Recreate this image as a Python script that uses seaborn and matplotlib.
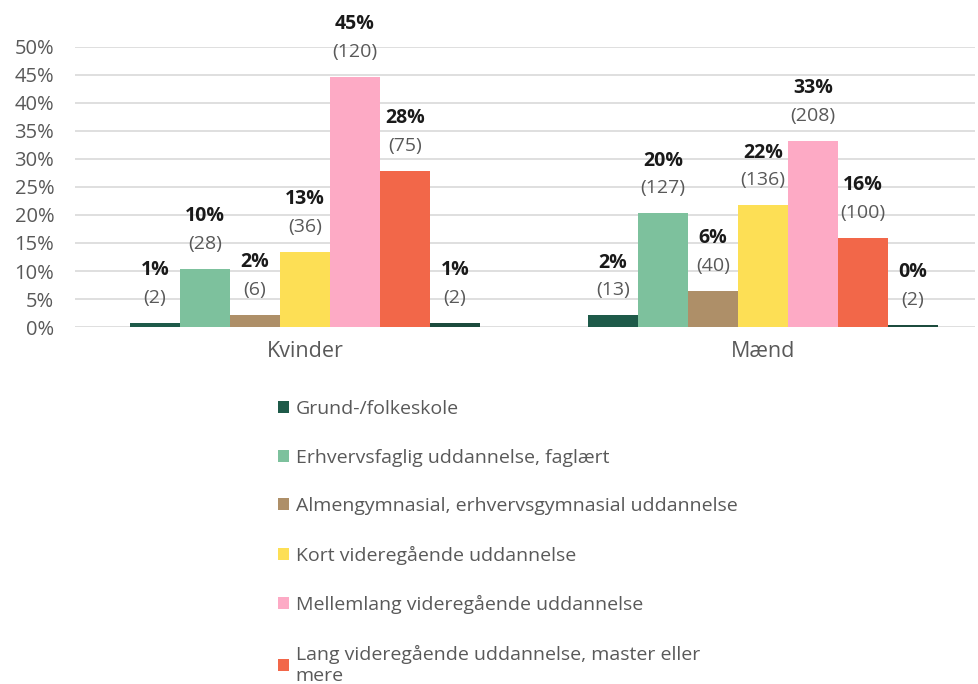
import matplotlib
matplotlib.use("Agg")
import matplotlib.pyplot as plt
from matplotlib.patches import Patch
from matplotlib.ticker import PercentFormatter
import seaborn as sns
import pandas as pd

# Education level by gender: share (%) and number of respondents
groups = ["Kvinder", "Mænd"]
levels = [
    "Grund-/folkeskole",
    "Erhvervsfaglig uddannelse, faglært",
    "Almengymnasial, erhvervsgymnasial uddannelse",
    "Kort videregående uddannelse",
    "Mellemlang videregående uddannelse",
    "Lang videregående uddannelse, master eller\nmere",
    "Andet",
]
pct_kvinder = [0.74, 10.41, 2.23, 13.38, 44.61, 27.88, 0.74]
pct_maend = [2.08, 20.29, 6.39, 21.73, 33.23, 15.97, 0.32]
n_kvinder = [2, 28, 6, 36, 120, 75, 2]
n_maend = [13, 127, 40, 136, 208, 100, 2]
colors = ["#1e5a49", "#7dc19d", "#ae8f68", "#fddf55", "#fdaac5", "#f26749", "#1c4b3d"]

rows = []
for g, pcts, ns in [("Kvinder", pct_kvinder, n_kvinder), ("Mænd", pct_maend, n_maend)]:
    for lvl, p, n in zip(levels, pcts, ns):
        rows.append({"gruppe": g, "niveau": lvl, "pct": p, "n": n})
df = pd.DataFrame(rows)

sns.set_theme(style="white")
plt.rcParams["font.family"] = ["Open Sans", "DejaVu Sans"]

fig = plt.figure(figsize=(9.79, 6.84), dpi=100)
ax = fig.add_axes([75 / 979, 1 - 327 / 684, 900 / 979, 280 / 684])

sns.barplot(data=df, x="gruppe", y="pct", hue="niveau", order=groups,
            hue_order=levels, palette=colors, width=0.764, gap=0,
            saturation=1, legend=False, ax=ax, errorbar=None, linewidth=0)

ax.set_xlim(-0.502, 1.463)
ax.set_ylim(0, 50)
ax.set_yticks(range(0, 51, 5))
ax.yaxis.set_major_formatter(PercentFormatter(decimals=0))
ax.grid(axis="y", color="#d9d9d9", linewidth=1.2)
ax.set_axisbelow(True)
ax.set_xlabel("")
ax.set_ylabel("")
for s in ax.spines.values():
    s.set_visible(False)
ax.tick_params(axis="y", length=0, labelsize=14.5, labelcolor="#595959", pad=15)
ax.tick_params(axis="x", length=0, labelsize=15.5, labelcolor="#595959", pad=10)

# Value labels: rounded share (bold) with count underneath
for cont, lvl in zip(ax.containers, levels):
    sub = df[df["niveau"] == lvl].set_index("gruppe").loc[groups]
    for bar, p, n in zip(cont, sub["pct"], sub["n"]):
        xc = bar.get_x() + bar.get_width() / 2
        top = bar.get_height()
        ax.annotate(f"({n})", (xc, top), xytext=(0, 18), textcoords="offset points",
                    ha="center", va="center", fontsize=14, color="#595959")
        ax.annotate(f"{p:.0f}%", (xc, top), xytext=(0, 38), textcoords="offset points",
                    ha="center", va="center", fontsize=14, fontweight="bold",
                    color="#1a1a1a")

handles = [Patch(facecolor=c, edgecolor="none") for c in colors[:6]]
leg = fig.legend(handles, levels[:6], loc="upper left",
                 bbox_to_anchor=(278 / 979, 1 - 400 / 684),
                 frameon=False, fontsize=14, labelcolor="#595959", handlelength=0.55,
                 handleheight=0.55, handletextpad=0.35, labelspacing=1.57,
                 borderaxespad=0, borderpad=0)
for t in leg.get_texts():
    t.set_linespacing(1.2)

fig.savefig("out.png", dpi=100)
